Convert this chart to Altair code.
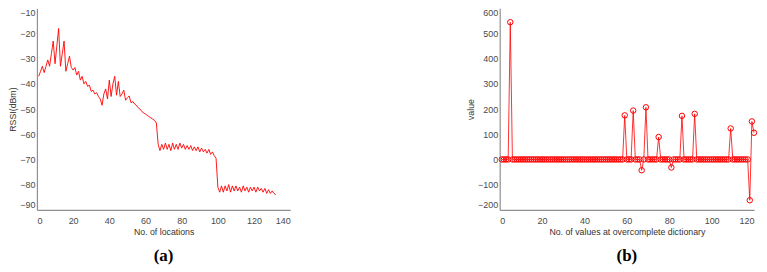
import altair as alt
import pandas as pd

# ---------------- data (a) ----------------
loc_x = list(range(1, 133))
rssi = [
    -37, -35, -33, -35.5, -33, -30.5, -33, -28, -23, -32,
    -25, -18, -33, -28, -23, -35, -32, -29, -33.5, -34.5,
    -33.5, -36.5, -35, -38.5, -37, -40, -39, -41, -40.5, -43,
    -42.5, -44, -43.5, -45, -46, -48.5, -44, -42, -46, -38.5,
    -45, -40, -37, -44.5, -39, -45, -44, -42.5, -46.5, -45.5,
    -44.8, -47.5, -47, -48, -48.5, -49.5, -50, -51, -51.5, -52,
    -52.5, -53, -53.5, -54, -54.5, -55.5, -64, -66.5, -64, -66,
    -63.5, -66, -64, -66.5, -63.5, -66, -64, -66, -63.5, -65.5,
    -64, -66, -64.5, -66, -64.5, -66.5, -65, -66.5, -65, -67,
    -65.5, -67, -66, -67.5, -66, -68, -67, -68.5, -69.5, -81,
    -83, -80.5, -83, -80.5, -82.5, -80, -83, -80.5, -82.5, -80.5,
    -82.5, -81, -83, -80.5, -82.5, -81, -83, -81, -82.5, -81,
    -83, -81, -82.5, -81.5, -83, -81.5, -83.5, -82, -83.5, -82.5,
    -83.5, -84,
]

# ---------------- data (b) ----------------
idx = list(range(1, 121))
coef = [
    0, 0, 0, 0, 545, 0, 0, 0, 0, 0,
    0, 0, 0, 0, 0, 0, 0, 0, 0, 0,
    0, 0, 0, 0, 0, 0, 0, 0, 0, 0,
    0, 0, 0, 0, 0, 0, 0, 0, 0, 0,
    0, 0, 0, 0, 0, 0, 0, 0, 0, 0,
    0, 0, 0, 0, 0, 0, 0, 0, 175, 0,
    0, 0, 194, 0, 0, 0, -43, 0, 207, 0,
    0, 0, 0, 0, 89, 0, 0, 0, 0, 0,
    -32, 0, 0, 0, 0, 173, 0, 0, 0, 0,
    0, 181, 0, 0, 0, 0, 0, 0, 0, 0,
    0, 0, 0, 0, 0, 0, 0, 0, 123, 0,
    0, 0, 0, 0, 0, 0, 0, -162, 151, 106,
]

x_ticks_a = [0, 20, 40, 60, 80, 100, 120, 140]
y_ticks_a = [-90, -80, -70, -60, -50, -40, -30, -20, -10]
x_ticks_b = [0, 20, 40, 60, 80, 100, 120]
y_ticks_b = [-200, -100, 0, 100, 200, 300, 400, 500, 600]

df_a = pd.DataFrame({"loc": loc_x, "rssi": rssi})
df_b = pd.DataFrame({"idx": idx, "coef": coef})

RED = "#ff0000"
axis_common = dict(
    domainColor="#8f8f8f", domainWidth=1.2, ticks=False, grid=False,
    labelColor="#4a4a4a", labelFont="Liberation Sans", labelFontSize=9,
    titleFont="Liberation Sans", titleFontSize=8.8, titleFontWeight="normal",
    titleColor="#333333",
)
x_axis = dict(labelPadding=7, titlePadding=2, **axis_common)
y_axis = dict(labelPadding=2, titlePadding=2, labelFlush=True, **axis_common)


def panel_title(t):
    return alt.TitleParams(
        t, orient="bottom", font="Liberation Serif", fontSize=17,
        fontWeight="bold", color="#000000", offset=12,
    )


left = alt.Chart(df_a).mark_line(color=RED, strokeWidth=0.9).encode(
    x=alt.X("loc:Q", scale=alt.Scale(domain=[0, 140], nice=False),
            axis=alt.Axis(values=x_ticks_a, title="No. of locations", **x_axis)),
    y=alt.Y("rssi:Q", scale=alt.Scale(domain=[-90, -10], nice=False),
            axis=alt.Axis(values=y_ticks_a, title="RSSI(dBm)", **y_axis)),
).properties(width=254, height=202, title=panel_title("(a)"))

base_b = alt.Chart(df_b).encode(
    x=alt.X("idx:Q", scale=alt.Scale(domain=[0, 120], nice=False),
            axis=alt.Axis(values=x_ticks_b,
                          title="No. of values at overcomplete dictionary",
                          **x_axis)),
    y=alt.Y("coef:Q", scale=alt.Scale(domain=[-200, 600], nice=False),
            axis=alt.Axis(values=y_ticks_b, title="value", **y_axis)),
)
right = alt.layer(
    base_b.mark_line(color=RED, strokeWidth=0.8),
    base_b.mark_point(shape="circle", filled=False, color=RED, size=30,
                      strokeWidth=1, opacity=1),
).properties(width=255, height=202, title=panel_title("(b)"))

chart = alt.hconcat(left, right, spacing=176).properties(
    padding=0
).configure_view(stroke=None)

chart.save("out.html", embed_options={"renderer": "svg", "actions": False})
